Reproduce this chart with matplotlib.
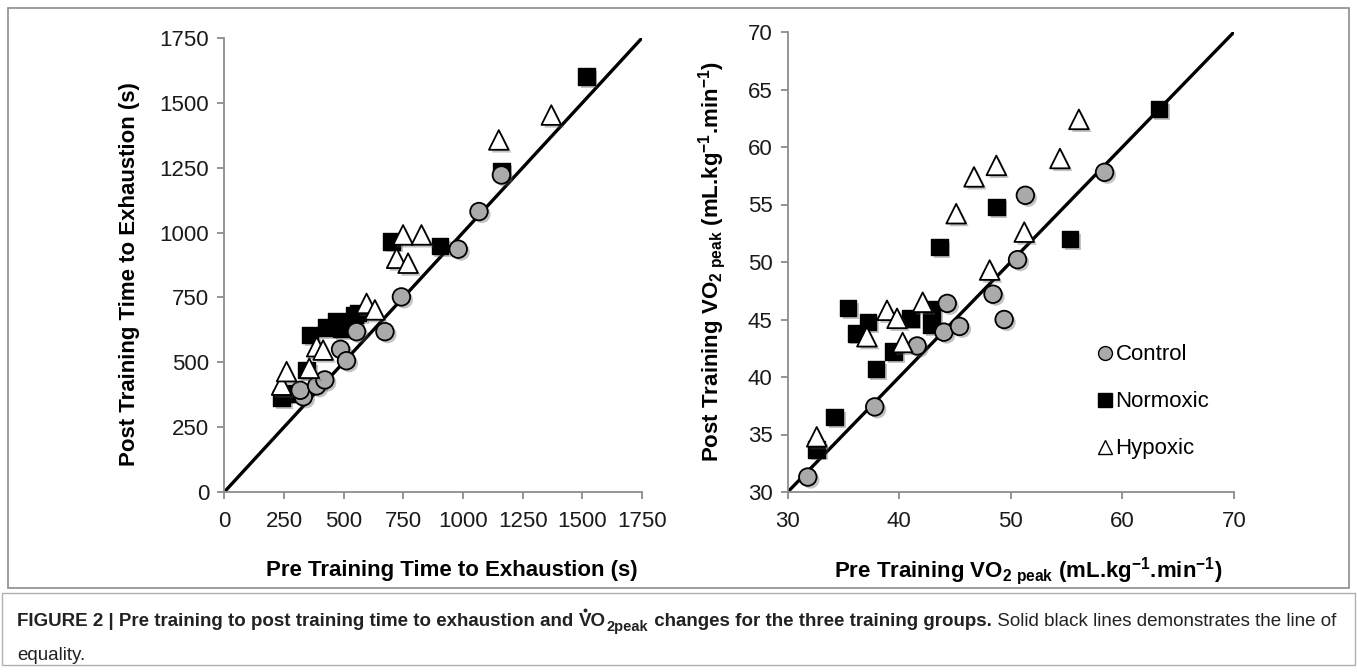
import matplotlib
matplotlib.use("Agg")
import matplotlib.pyplot as plt
import matplotlib.patheffects as pe
from matplotlib.patches import Rectangle
from matplotlib.lines import Line2D

plt.rcParams['font.family'] = ['Liberation Sans', 'DejaVu Sans']
plt.rcParams['mathtext.fontset'] = 'custom'
plt.rcParams['mathtext.rm'] = 'Liberation Sans:bold'
plt.rcParams['mathtext.bf'] = 'Liberation Sans:bold'
plt.rcParams['mathtext.default'] = 'rm'

# ---------------- data: time to exhaustion (s) ----------------
tte_control_pre = [331, 318, 387, 421, 487, 512, 554, 673, 742, 980, 1067, 1161]
tte_control_post = [367, 392, 409, 432, 550, 506, 618, 618, 752, 936, 1081, 1222]
tte_normoxic_pre = [240, 262, 345, 359, 429, 470, 490, 545, 561, 701, 903, 1161, 1517]
tte_normoxic_post = [362, 380, 470, 605, 634, 660, 630, 682, 689, 966, 948, 1237, 1601]
tte_hypoxic_pre = [240, 261, 356, 387, 414, 596, 631, 722, 749, 770, 826, 1150, 1370]
tte_hypoxic_post = [412, 464, 477, 560, 547, 727, 702, 901, 991, 882, 991, 1357, 1453]

# ---------------- data: VO2peak (mL.kg-1.min-1) ----------------
vo2_control_pre = [31.8, 37.8, 41.6, 44.0, 45.4, 44.3, 48.4, 49.4, 50.6, 51.3, 58.4]
vo2_control_post = [31.3, 37.4, 42.7, 43.9, 44.4, 46.4, 47.2, 45.0, 50.2, 55.8, 57.8]
vo2_normoxic_pre = [32.6, 34.2, 35.4, 36.1, 37.2, 37.9, 39.5, 41.0, 42.9, 42.9, 43.6, 48.7, 55.3, 63.3]
vo2_normoxic_post = [33.7, 36.5, 46.0, 43.8, 44.8, 40.7, 42.2, 45.1, 45.9, 44.5, 51.3, 54.8, 52.0, 63.3]
vo2_hypoxic_pre = [32.6, 37.1, 38.9, 39.8, 40.3, 42.1, 45.1, 46.7, 48.1, 48.7, 51.2, 54.4, 56.1]
vo2_hypoxic_post = [34.8, 43.5, 45.8, 45.1, 43.0, 46.5, 54.2, 57.4, 49.3, 58.4, 52.6, 59.0, 62.4]

group_names = ["Control", "Normoxic", "Hypoxic"]
tte_ticks = [0, 250, 500, 750, 1000, 1250, 1500, 1750]
vo2_ticks = [30, 40, 50, 60, 70]
vo2_yticks = [30, 35, 40, 45, 50, 55, 60, 65, 70]

W, H = 1357, 672
fig = plt.figure(figsize=(W / 100, H / 100), dpi=100)

def fx(px):
    return px / W

def fy(py):
    return 1 - py / H

# borders
fig.patches.append(Rectangle((fx(8), fy(588)), fx(1349) - fx(8), fy(8) - fy(588),
                             transform=fig.transFigure, fill=False, edgecolor='#8c8c8c', lw=1.2))
fig.patches.append(Rectangle((fx(2), fy(665)), fx(1355) - fx(2), fy(593) - fy(665),
                             transform=fig.transFigure, fill=False, edgecolor='#b0b0b0', lw=1.0))

axL = fig.add_axes([fx(224.3), fy(492), fx(642) - fx(224.3), fy(38) - fy(492)])
axR = fig.add_axes([fx(787.7), fy(492), fx(1234) - fx(787.7), fy(32) - fy(492)])

shadow = [pe.SimplePatchShadow(offset=(2, -2), shadow_rgbFace='#555555', alpha=0.35), pe.Normal()]
circle_kw = dict(marker='o', s=160, facecolor='#aaaaaa', edgecolor='black', linewidths=1.3, zorder=4)
square_kw = dict(marker='s', s=140, facecolor='black', edgecolor='black', linewidths=1.0, zorder=3)
tri_kw = dict(marker='^', s=200, facecolor='white', edgecolor='black', linewidths=1.3, zorder=5)

def style_axes(ax, lo, hi, xt, yt):
    ax.plot([lo, hi], [lo, hi], color='black', lw=2.4, zorder=2, solid_capstyle='butt')
    ax.set_xlim(lo, hi)
    ax.set_ylim(lo, hi)
    ax.set_xticks(xt)
    ax.set_yticks(yt)
    for s in ['top', 'right']:
        ax.spines[s].set_visible(False)
    for s in ['left', 'bottom']:
        ax.spines[s].set_color('#8c8c8c')
        ax.spines[s].set_linewidth(1.3)
    ax.tick_params(axis='both', direction='out', length=5, width=1.3, color='#8c8c8c',
                   labelsize=16, labelcolor='#1a1a1a', pad=6)
    ax.tick_params(axis='x', pad=9)
    ax.patch.set_alpha(0)

style_axes(axL, 0, 1750, tte_ticks, tte_ticks)
style_axes(axR, 30, 70, vo2_ticks, vo2_yticks)

for ax, cp, cq, npre, npost, hp, hq in [
    (axL, tte_control_pre, tte_control_post, tte_normoxic_pre, tte_normoxic_post, tte_hypoxic_pre, tte_hypoxic_post),
    (axR, vo2_control_pre, vo2_control_post, vo2_normoxic_pre, vo2_normoxic_post, vo2_hypoxic_pre, vo2_hypoxic_post),
]:
    a = ax.scatter(npre, npost, **square_kw)
    b = ax.scatter(cp, cq, **circle_kw)
    c = ax.scatter(hp, hq, **tri_kw)
    for art in (a, b, c):
        art.set_path_effects(shadow)

axL.set_xlabel("Pre Training Time to Exhaustion (s)", fontsize=16, fontweight='bold', labelpad=20)
axL.set_ylabel("Post Training Time to Exhaustion (s)", fontsize=16, fontweight='bold', labelpad=14)
axR.set_xlabel(r"Pre Training VO$_{2\ peak}$ (mL.kg$^{-1}$.min$^{-1}$)", fontsize=16,
               fontweight='bold', labelpad=16)
axR.set_ylabel(r"Post Training VO$_{2\ peak}$ (mL.kg$^{-1}$.min$^{-1}$)", fontsize=16,
               fontweight='bold', labelpad=14)
axL.xaxis.label.set_x(0.545)
axR.xaxis.label.set_x(0.54)
axL.yaxis.label.set_y(0.48)

handles = [
    Line2D([], [], marker='o', ls='none', markersize=10, markerfacecolor='#aaaaaa', markeredgecolor='black', markeredgewidth=1.0),
    Line2D([], [], marker='s', ls='none', markersize=10, markerfacecolor='black', markeredgecolor='black'),
    Line2D([], [], marker='^', ls='none', markersize=10, markerfacecolor='white', markeredgecolor='black', markeredgewidth=1.0),
]
axR.legend(handles, group_names, loc='upper left', bbox_to_anchor=(0.675, 0.34), frameon=False,
           fontsize=16, handlelength=0.6, handletextpad=0.2, labelspacing=1.17, borderaxespad=0)

# caption
fig.canvas.draw()
renderer = fig.canvas.get_renderer()
cap_fonts = ['Liberation Sans Narrow', 'Liberation Sans', 'DejaVu Sans']
fs = 13.5
pieces = [
    ("FIGURE 2 | Pre training to post training time to exhaustion and ", 'bold', 0, 1.0, 0),
    ("VO", 'bold', 0, 1.0, 1),
    ("2peak", 'bold', -5, 0.78, 1),
    (" changes for the three training groups.", 'bold', 0, 1.0, 0),
    (" Solid black lines demonstrates the line of", 'normal', 0, 1.0, 0),
]
x = fx(17)
y0 = fy(626)
v_x = None
for txt, w, dy, scale, gap in pieces:
    t = fig.text(x, y0 + dy / H, txt, fontsize=fs * scale, fontweight=w, family=cap_fonts,
                 color='#222222', ha='left', va='baseline')
    if txt == "VO":
        v_x = x
    bb = t.get_window_extent(renderer)
    x = x + (bb.width + gap) / W
# dot over V (drawn as a tiny marker)
fig.add_artist(Line2D([v_x + 6.3 / W], [y0 + 16.5 / H], marker='o', markersize=1.8, ls='none',
                      color='#222222', transform=fig.transFigure))
fig.text(fx(17), fy(660), "equality.", fontsize=fs, family=cap_fonts, color='#222222',
         ha='left', va='baseline')

fig.savefig("out.png", dpi=100)
